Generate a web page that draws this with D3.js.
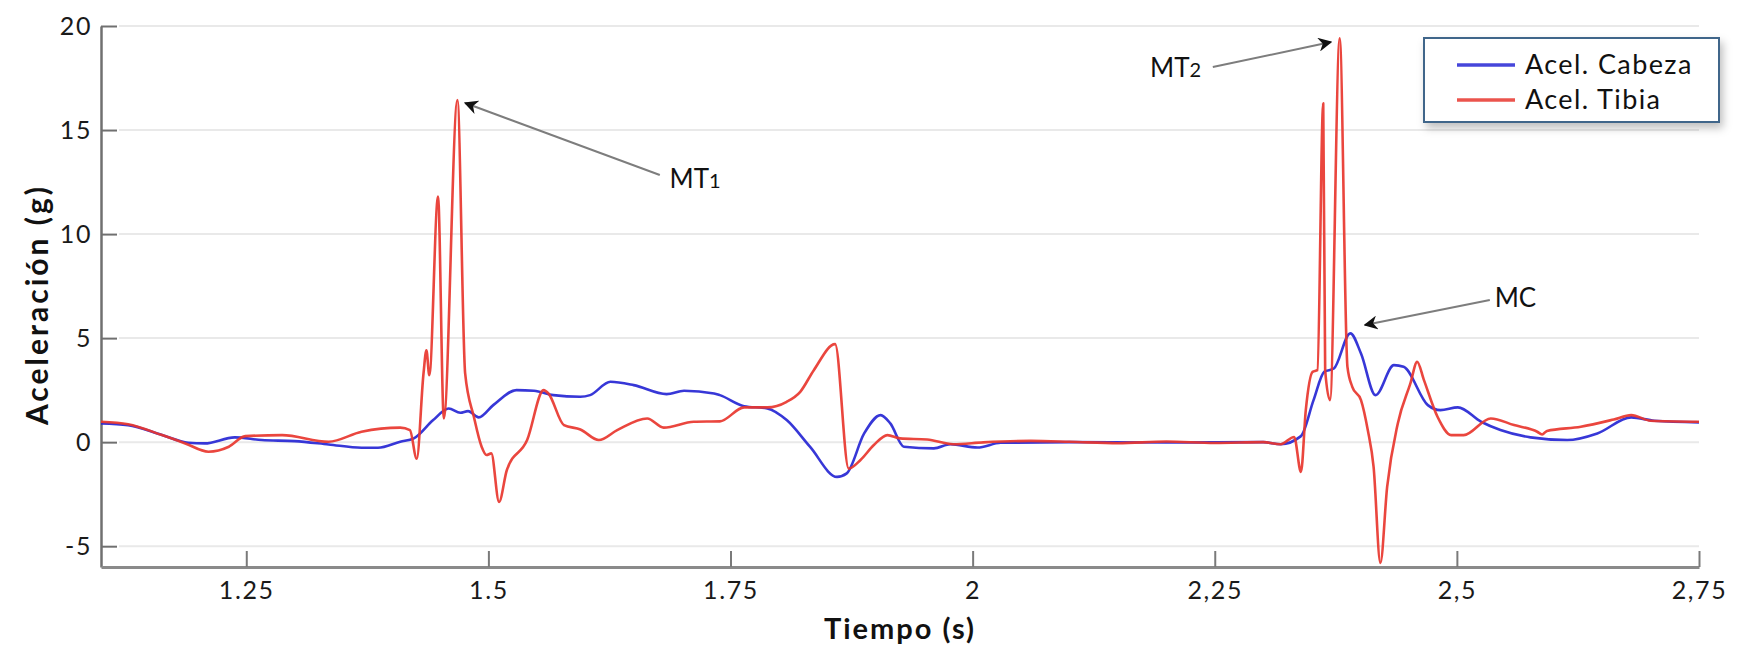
<!DOCTYPE html>
<html>
<head>
<meta charset="utf-8">
<script src="https://cdn.jsdelivr.net/npm/d3@7"></script>
<style>
  body { margin: 0; background: #fff; }
  svg { display: block; font-family: Lato, "Open Sans", sans-serif; }
  .tick text { fill: #1a1a1a; font-size: 25px; letter-spacing: 1.6px; }
</style>
</head>
<body>
<div id="plot"></div>
<script>
// acel. cabeza (blue), [tiempo, g]
var cabeza = [
  [1.100, 0.90], [1.128, 0.82], [1.163, 0.34], [1.190, -0.03], [1.207, -0.06],
  [1.238, 0.23], [1.266, 0.10], [1.300, 0.05], [1.335, -0.11], [1.369, -0.27],
  [1.386, -0.27], [1.409, 0.02], [1.423, 0.18], [1.443, 1.06], [1.459, 1.62],
  [1.471, 1.41], [1.479, 1.49], [1.490, 1.19], [1.505, 1.78], [1.529, 2.50],
  [1.547, 2.47], [1.567, 2.26], [1.595, 2.18], [1.605, 2.26], [1.626, 2.90],
  [1.650, 2.74], [1.684, 2.31], [1.702, 2.47], [1.733, 2.34], [1.739, 2.26],
  [1.764, 1.73], [1.788, 1.62], [1.808, 1.06], [1.832, -0.22], [1.860, -1.67],
  [1.870, -1.50], [1.888, 0.42], [1.905, 1.30], [1.915, 0.90], [1.929, -0.22],
  [1.960, -0.30], [1.977, -0.10], [2.005, -0.26], [2.029, -0.03], [2.100, 0.00],
  [2.200, -0.02], [2.300, 0.00], [2.318, -0.10], [2.339, 0.29], [2.352, 2.02],
  [2.363, 3.38], [2.373, 3.54], [2.390, 5.23], [2.401, 4.26], [2.416, 2.26],
  [2.435, 3.70], [2.445, 3.62], [2.470, 1.78], [2.483, 1.54], [2.501, 1.67],
  [2.525, 0.98], [2.545, 0.58], [2.576, 0.23], [2.614, 0.10], [2.645, 0.42],
  [2.680, 1.19], [2.704, 1.03], [2.750, 0.95]
];

// acel. tibia (red)
var tibia = [
  [1.100, 0.98], [1.128, 0.86], [1.163, 0.34], [1.187, -0.06], [1.211, -0.46],
  [1.232, -0.22], [1.249, 0.29], [1.287, 0.34], [1.335, 0.02], [1.369, 0.50],
  [1.409, 0.70], [1.419, 0.58], [1.426, -0.80], [1.433, 3.30], [1.436, 4.42],
  [1.439, 3.22], [1.448, 11.80], [1.454, 1.14], [1.468, 16.44], [1.476, 3.30],
  [1.485, 1.22], [1.493, -0.22], [1.498, -0.62], [1.503, -0.54], [1.511, -2.87],
  [1.519, -1.35], [1.540, 0.10], [1.557, 2.50], [1.562, 2.34], [1.578, 0.82],
  [1.595, 0.61], [1.614, 0.10], [1.633, 0.58], [1.664, 1.14], [1.681, 0.70],
  [1.712, 0.98], [1.739, 1.00], [1.764, 1.67], [1.788, 1.67], [1.808, 1.94],
  [1.822, 2.42], [1.836, 3.46], [1.858, 4.71], [1.872, -1.27], [1.884, -0.87],
  [1.898, -0.14], [1.912, 0.34], [1.925, 0.18], [1.953, 0.13], [1.980, -0.10],
  [2.011, -0.01], [2.060, 0.06], [2.100, 0.02], [2.150, -0.05], [2.200, 0.03],
  [2.250, -0.04], [2.300, 0.00], [2.318, -0.10], [2.332, 0.25], [2.339, -1.43],
  [2.344, 1.54], [2.351, 3.38], [2.356, 3.46], [2.362, 16.28], [2.364, 3.46],
  [2.369, 2.02], [2.379, 19.41], [2.387, 3.62], [2.392, 2.66], [2.401, 2.02],
  [2.408, 0.58], [2.414, -1.19], [2.421, -5.80], [2.428, -2.15], [2.439, 0.90],
  [2.452, 2.82], [2.459, 3.86], [2.466, 2.98], [2.480, 1.22], [2.494, 0.34],
  [2.507, 0.34], [2.535, 1.14], [2.559, 0.82], [2.583, 0.50], [2.588, 0.37],
  [2.593, 0.54], [2.628, 0.74], [2.662, 1.09], [2.680, 1.30], [2.700, 1.03],
  [2.750, 0.98]
];

var xTicks = [1.25, 1.5, 1.75, 2, 2.25, 2.5, 2.75];
var xTickLabels = ["1.25", "1.5", "1.75", "2", "2,25", "2,5", "2,75"];
var yTicks = [-5, 0, 5, 10, 15, 20];
var yTickLabels = ["-5", "0", "5", "10", "15", "20"];
var seriesNames = ["Acel. Cabeza", "Acel. Tibia"];
var seriesColors = ["#2626d4", "#e8362e"];

// annotations: label, subscript, label pos, arrow from, arrow to (data units)
var notes = [
  { txt: "MT", sub: "1", at: [1.687, 12.2], anchor: "start", from: [1.677, 12.84], to: [1.476, 16.3] },
  { txt: "MT", sub: "2", at: [2.236, 17.55], anchor: "end", from: [2.248, 18.03], to: [2.370, 19.23] },
  { txt: "MC", sub: "", at: [2.539, 6.49], anchor: "start", from: [2.534, 6.83], to: [2.405, 5.63] }
];

function drawChart() {
  var W = 1746, H = 650;
  var pl = 101, pr = 1699, pt = 26, pb = 567;

  var x = d3.scaleLinear().domain([1.1, 2.75]).range([pl, pr]);
  var y = d3.scaleLinear().domain([-6, 20]).range([pb, pt]);

  var svg = d3.select("#plot").append("svg")
    .attr("width", W).attr("height", H);

  var defs = svg.append("defs");
  defs.append("marker")
    .attr("id", "head")
    .attr("viewBox", "0 0 10 10")
    .attr("refX", 9).attr("refY", 5)
    .attr("markerWidth", 7).attr("markerHeight", 7)
    .attr("markerUnits", "strokeWidth")
    .attr("orient", "auto")
    .append("path")
    .attr("d", "M0,0 L10,5 L0,10 L3,5 Z")
    .attr("fill", "#111");

  var f = defs.append("filter").attr("id", "shadow")
    .attr("x", "-10%").attr("y", "-10%").attr("width", "130%").attr("height", "150%");
  f.append("feDropShadow").attr("dx", 3).attr("dy", 5).attr("stdDeviation", 4)
    .attr("flood-color", "#000").attr("flood-opacity", 0.25);

  // grid
  svg.append("g").selectAll("line")
    .data(yTicks).enter().append("line")
    .attr("x1", pl + 18).attr("x2", pr)
    .attr("y1", function(d) { return y(d); })
    .attr("y2", function(d) { return y(d); })
    .attr("stroke", "#e9e9e9").attr("stroke-width", 2);

  // axes
  var yAxis = d3.axisLeft(y).tickValues(yTicks).tickSizeInner(-16).tickSizeOuter(0).tickPadding(9)
    .tickFormat(function(d, i) { return yTickLabels[i]; });
  var xAxis = d3.axisBottom(x).tickValues(xTicks).tickSizeInner(-16).tickSizeOuter(0).tickPadding(14)
    .tickFormat(function(d, i) { return xTickLabels[i]; });

  var gy = svg.append("g").attr("transform", "translate(" + pl + ",0)").call(yAxis);
  var gx = svg.append("g").attr("transform", "translate(0," + pb + ")").call(xAxis);
  gy.attr("font-family", null).attr("font-size", null);
  gx.attr("font-family", null).attr("font-size", null);
  gy.select(".domain").attr("stroke", "#707070").attr("stroke-width", 2.5);
  gx.select(".domain").attr("stroke", "#8a8a8a").attr("stroke-width", 3);
  gy.selectAll(".tick line").attr("stroke", "#707070").attr("stroke-width", 2);
  gx.selectAll(".tick line").attr("stroke", "#7a7a7a").attr("stroke-width", 2);

  // titles
  svg.append("text")
    .attr("x", (pl + pr) / 2).attr("y", 639)
    .attr("text-anchor", "middle")
    .attr("font-size", 29).attr("font-weight", "bold").attr("fill", "#111")
    .attr("letter-spacing", 2)
    .text("Tiempo (s)");
  svg.append("text")
    .attr("transform", "translate(48," + ((pt + pb) / 2 + 8) + ") rotate(-90)")
    .attr("text-anchor", "middle")
    .attr("font-size", 30).attr("font-weight", "bold").attr("fill", "#111")
    .attr("letter-spacing", 3)
    .text("Aceleración (g)");

  // series
  var line = d3.line()
    .curve(d3.curveMonotoneX)
    .x(function(d) { return x(d[0]); })
    .y(function(d) { return y(d[1]); });

  [cabeza, tibia].forEach(function(s, i) {
    svg.append("path")
      .datum(s)
      .attr("d", line)
      .attr("fill", "none")
      .attr("stroke", seriesColors[i])
      .attr("stroke-width", 2.6)
      .attr("stroke-linejoin", "round")
      .attr("stroke-opacity", 0.92);
  });

  // annotations
  notes.forEach(function(n) {
    svg.append("line")
      .attr("x1", x(n.from[0])).attr("y1", y(n.from[1]))
      .attr("x2", x(n.to[0])).attr("y2", y(n.to[1]))
      .attr("stroke", "#7d7d7d").attr("stroke-width", 2)
      .attr("marker-end", "url(#head)");
    var t = svg.append("text")
      .attr("x", x(n.at[0])).attr("y", y(n.at[1]))
      .attr("text-anchor", n.anchor)
      .attr("font-size", 26).attr("fill", "#111")
      .text(n.txt);
    if (n.sub) t.append("tspan").attr("font-size", 20).text(n.sub);
  });

  // legend
  var lg = svg.append("g").attr("transform", "translate(1424,38)");
  lg.append("rect")
    .attr("width", 295).attr("height", 84)
    .attr("fill", "#fff").attr("stroke", "#41668a").attr("stroke-width", 2)
    .attr("filter", "url(#shadow)");
  seriesNames.forEach(function(name, i) {
    var yy = 27 + i * 35;
    lg.append("line")
      .attr("x1", 33).attr("x2", 91).attr("y1", yy).attr("y2", yy)
      .attr("stroke", seriesColors[i]).attr("stroke-width", 3.5).attr("stroke-opacity", 0.85);
    lg.append("text")
      .attr("x", 101).attr("y", yy + 9)
      .attr("font-size", 27).attr("fill", "#111")
      .attr("letter-spacing", 1.4)
      .text(name);
  });
}

drawChart();
</script>
</body>
</html>
